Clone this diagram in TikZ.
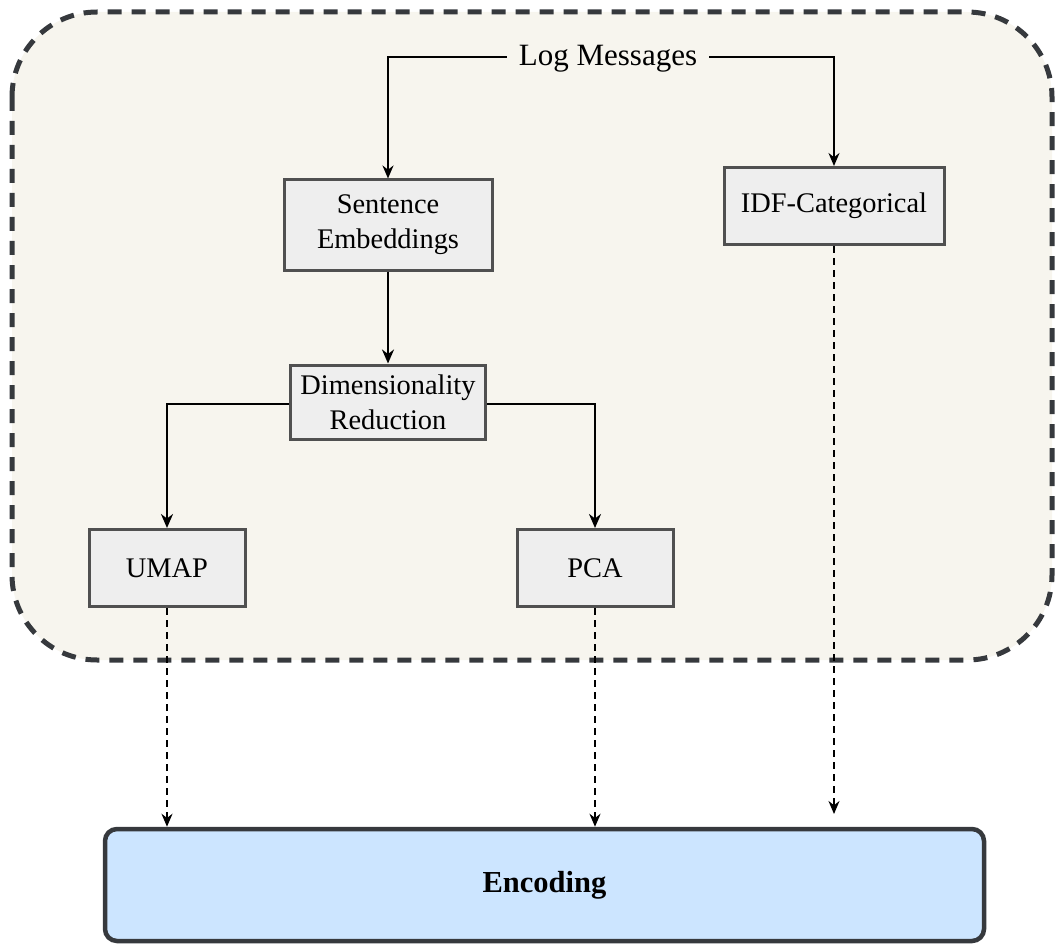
\documentclass[tikz,border=0pt]{standalone}
\usepackage{fontspec}
\setmainfont{Liberation Serif}
\usetikzlibrary{arrows.meta,positioning}
\definecolor{contfill}{HTML}{F7F5EE}
\definecolor{contdraw}{HTML}{36393D}
\definecolor{boxfill}{HTML}{EEEEEE}
\definecolor{boxdraw}{HTML}{505050}
\definecolor{encfill}{HTML}{CCE5FF}
\tikzset{
  procbox/.style={draw=boxdraw, fill=boxfill, line width=3pt, minimum width=#1, align=center,
    font=\fontsize{28.4}{35}\selectfont, inner sep=0pt},
  solidarrow/.style={draw=black, line width=1.7pt, -{Stealth[length=13pt,width=11pt]}},
  thickarrow/.style={draw=black, line width=2.6pt, -{Stealth[length=14pt,width=12pt]}},
  dasharrow/.style={draw=black, line width=1.8pt, dash pattern=on 7pt off 5pt, -{Stealth[length=13pt,width=11pt]}},
}
\begin{document}
\begin{tikzpicture}[x=1pt,y=-1pt]
\useasboundingbox (0,0) rectangle (1055,944);
% container
\draw[fill=contfill, draw=contdraw, line width=5pt, dash pattern=on 14pt off 10pt, rounded corners=85pt]
  (12,12) rectangle (1052,660);
% nodes
\node[font=\fontsize{31}{35}\selectfont, inner xsep=12pt, inner ysep=2pt, anchor=base] (lm) at (608,66) {Log Messages};
\coordinate (lmrow) at (0,57);
\node[procbox=208pt, minimum height=90pt] (se) at (388,225) {Sentence\\Embeddings};
\node[procbox=220pt, minimum height=77pt] (idf) at (834,206) {IDF-Categorical};
\node[procbox=195pt, minimum height=74pt] (dr) at (388,402) {Dimensionality\\Reduction};
\node[procbox=156pt, minimum height=77pt] (umap) at (167,568) {UMAP};
\node[procbox=156pt, minimum height=77pt] (pca) at (595,568) {PCA};
\node[draw=contdraw, fill=encfill, line width=4.5pt, rounded corners=12pt, minimum width=879pt, minimum height=112pt,
  font=\fontsize{30.5}{35}\selectfont\bfseries, inner sep=0pt] (enc) at (544.5,885) {Encoding};
\coordinate (idfend) at (834,814);
% connectors
\draw[solidarrow] (lm.west |- lmrow) -| (se.north);
\draw[solidarrow] (lm.east |- lmrow) -| (idf.north);
\draw[thickarrow] (se.south) -- (dr.north);
\draw[thickarrow] ([yshift=-2pt]dr.west) -| (umap.north);
\draw[thickarrow] ([yshift=-2pt]dr.east) -| (pca.north);
\draw[dasharrow] (umap.south) -- (umap.south |- enc.north);
\draw[dasharrow] (pca.south) -- (pca.south |- enc.north);
\draw[dasharrow] (idf.south) -- (idfend);
\end{tikzpicture}
\end{document}
